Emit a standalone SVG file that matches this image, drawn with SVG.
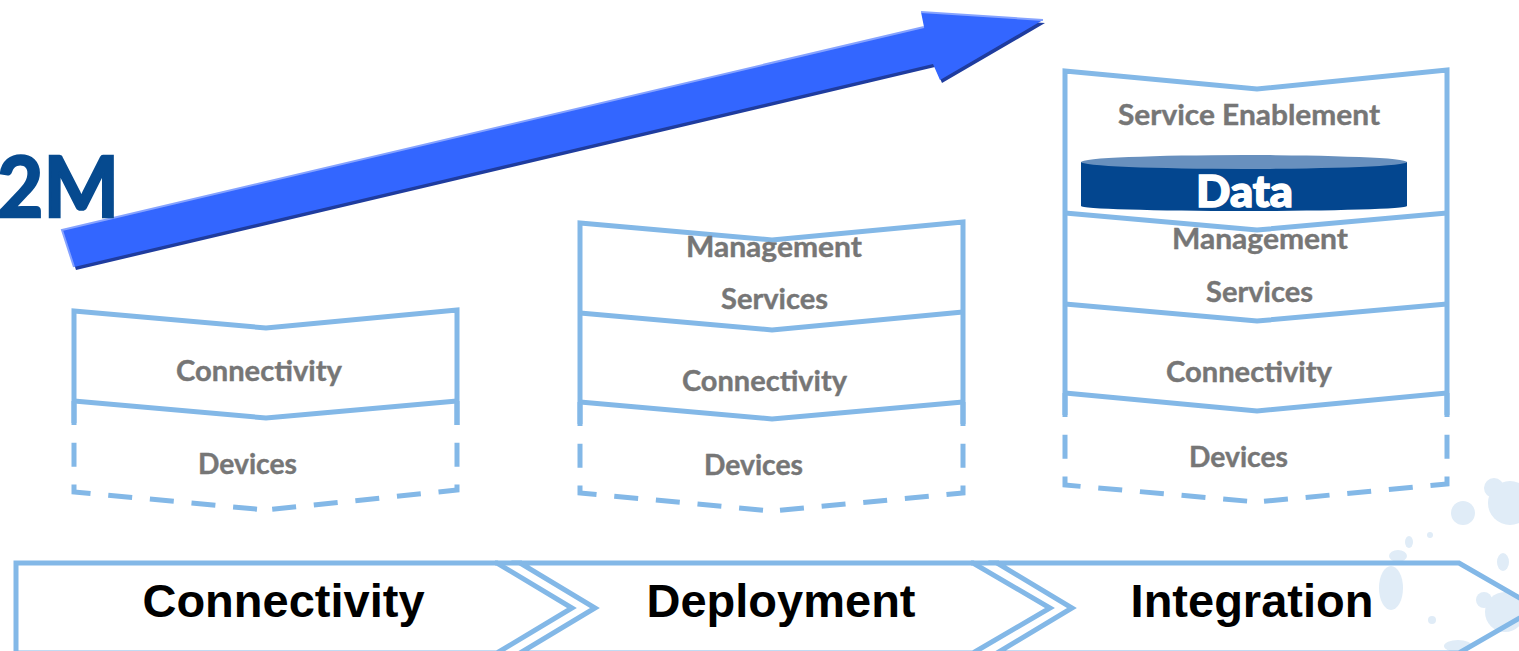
<svg xmlns="http://www.w3.org/2000/svg" width="1519" height="651" viewBox="0 0 1519 651">
  <style>
    .layer { fill: none; stroke: #83B8E7; stroke-width: 5; stroke-linejoin: miter; }
    .dash { fill: none; stroke: #83B8E7; stroke-width: 5; stroke-dasharray: 24 17.8; }
    .lbl { font-family: Lato, "Open Sans", "Liberation Sans", sans-serif; font-weight: 700; font-size: 29px; fill: #767676; text-anchor: middle; stroke: #767676; stroke-width: 0.4; }
    .phase { font-family: "Liberation Sans", Arial, sans-serif; font-weight: 700; font-size: 47px; fill: #000000; text-anchor: middle; }
    .band { fill: none; stroke: #83B8E7; stroke-width: 5; stroke-linejoin: miter; }
    .deco { fill: #E0ECF7; }
  </style>

  <rect width="1519" height="651" fill="#FFFFFF"/>

  <!-- faint floral background, lower right -->
  <g id="decoration">
    <circle class="deco" cx="1510" cy="503" r="22"/>
    <circle class="deco" cx="1494" cy="488" r="10"/>
    <circle class="deco" cx="1463" cy="513" r="12"/>
    <ellipse class="deco" cx="1503" cy="562" rx="6" ry="9"/>
    <ellipse class="deco" cx="1409" cy="542" rx="4" ry="6"/>
    <ellipse class="deco" cx="1391" cy="588" rx="12" ry="22"/>
    <ellipse class="deco" cx="1398" cy="556" rx="9" ry="6"/>
    <circle class="deco" cx="1505" cy="612" r="20"/>
    <circle class="deco" cx="1484" cy="600" r="8"/>
    <ellipse class="deco" cx="1458" cy="646" rx="14" ry="6"/>
    <circle class="deco" cx="1432" cy="620" r="4"/>
    <circle class="deco" cx="1430" cy="535" r="3"/>
  </g>

  <!-- rising arrow -->
  <g id="growth-arrow">
    <polygon points="62,230 924,27 921,12 1043,20 940,80 933,64 74,267" fill="#1F3C9E" transform="translate(2,3)"/>
    <polygon points="62,230 924,27 921,12 1043,20 940,80 933,64 74,267" fill="#3366FF"/>
    <polyline points="74,267 62,230 924,27" fill="none" stroke="#86A3FF" stroke-width="2"/>
    <polyline points="921,12 1043,20" fill="none" stroke="#86A3FF" stroke-width="2"/>
  </g>

  <text id="m2m-title" x="-3" y="217" font-family="Lato, 'Open Sans', sans-serif" font-weight="700" font-size="84" fill="#064A8F" stroke="#064A8F" stroke-width="2.5" textLength="122" lengthAdjust="spacingAndGlyphs">2M</text>

  <!-- stage 1 stack -->
  <g id="stack-connectivity">
    <path class="layer" d="M74,423 V311 L266,328 L457,310 V425"/>
    <path class="layer" d="M74,401 L266,418 L457,401"/>
    <path class="dash" d="M74,401 V492 L266,510"/>
    <path class="dash" d="M457,401 V490 L266,510"/>
    <text class="lbl" x="259" y="381" textLength="166" lengthAdjust="spacingAndGlyphs">Connectivity</text>
    <text class="lbl" x="247.5" y="474" textLength="99" lengthAdjust="spacingAndGlyphs">Devices</text>
  </g>

  <!-- stage 2 stack -->
  <g id="stack-deployment">
    <path class="layer" d="M580,424 V223 L772,240 L963,222 V424"/>
    <path class="layer" d="M580,313 L772,330 L963,312"/>
    <path class="layer" d="M580,402 L772,419 L963,402"/>
    <path class="dash" d="M580,402 V493 L772,511"/>
    <path class="dash" d="M963,402 V493 L772,511"/>
    <text class="lbl" x="774" y="257" textLength="176" lengthAdjust="spacingAndGlyphs">Management</text>
    <text class="lbl" x="774.5" y="309" textLength="107" lengthAdjust="spacingAndGlyphs">Services</text>
    <text class="lbl" x="764.5" y="391" textLength="165" lengthAdjust="spacingAndGlyphs">Connectivity</text>
    <text class="lbl" x="753.5" y="475" textLength="99" lengthAdjust="spacingAndGlyphs">Devices</text>
  </g>

  <!-- stage 3 stack -->
  <g id="stack-integration">
    <!-- data cylinder -->
    <path d="M1081,162 V206 A163,5 0 0 0 1407,206 V162 Z" fill="#03468F"/>
    <ellipse cx="1244" cy="162" rx="163" ry="7" fill="#6890BE"/>
    <text x="1244.5" y="207" font-family="Lato, 'Open Sans', sans-serif" font-weight="900" font-size="44" fill="#FFFFFF" stroke="#FFFFFF" stroke-width="1.5" text-anchor="middle" textLength="97" lengthAdjust="spacingAndGlyphs">Data</text>

    <path class="layer" d="M1065,415 V71 L1257,89 L1447,70 V415"/>
    <path class="layer" d="M1065,213 L1257,230 L1447,213"/>
    <path class="layer" d="M1065,304 L1257,321 L1447,304"/>
    <path class="layer" d="M1065,393 L1257,411 L1447,393"/>
    <path class="dash" d="M1065,393 V485 L1257,502"/>
    <path class="dash" d="M1447,393 V484 L1257,502"/>
    <text class="lbl" x="1249" y="125" textLength="262" lengthAdjust="spacingAndGlyphs">Service Enablement</text>
    <text class="lbl" x="1260" y="249" textLength="176" lengthAdjust="spacingAndGlyphs">Management</text>
    <text class="lbl" x="1259.5" y="302" textLength="107" lengthAdjust="spacingAndGlyphs">Services</text>
    <text class="lbl" x="1249" y="382" textLength="166" lengthAdjust="spacingAndGlyphs">Connectivity</text>
    <text class="lbl" x="1238.5" y="467" textLength="99" lengthAdjust="spacingAndGlyphs">Devices</text>
  </g>

  <!-- phase band -->
  <g id="phase-connectivity">
    <polygon class="band" points="16,563 497,563 572,608 497,653 16,653"/>
    <text class="phase" x="283.5" y="617">Connectivity</text>
  </g>
  <g id="phase-deployment">
    <polygon class="band" points="520,563 973,563 1050,608 973,653 520,653 595,608"/>
    <text class="phase" x="781" y="617">Deployment</text>
  </g>
  <g id="phase-integration">
    <polygon class="band" points="997,563 1459,563 1537,608 1459,653 997,653 1072,608"/>
    <text class="phase" x="1252" y="617">Integration</text>
  </g>
  <g id="connectors">
    <!-- joins the top and bottom rails across the phase notches -->
    <line x1="495" y1="563" x2="522" y2="563" stroke="#83B8E7" stroke-width="5"/>
    <line x1="971" y1="563" x2="999" y2="563" stroke="#83B8E7" stroke-width="5"/>
  </g>
</svg>
